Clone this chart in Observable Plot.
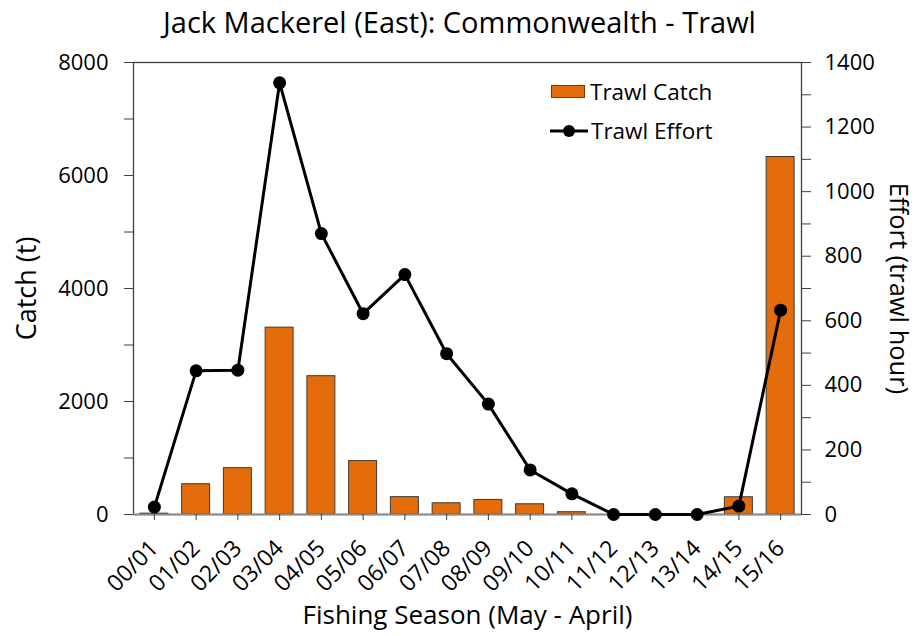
<!DOCTYPE html>
<html><head><meta charset="utf-8">
<script src="https://cdn.jsdelivr.net/npm/d3@7"></script>
<script src="https://cdn.jsdelivr.net/npm/@observablehq/plot@0.6"></script>
<style>
body{margin:0;background:#fff;font-family:"Open Sans",sans-serif;color:#000;}
#wrap{position:relative;width:919px;height:636px;overflow:hidden;}
#title{height:44px;text-align:center;font-size:29px;line-height:44px;}
.leg{position:absolute;display:flex;align-items:center;font-size:22.5px;line-height:26px;}
.leg svg{margin-right:3px;}
</style></head><body>
<div id="wrap">
<div id="title">Jack Mackerel (East): Commonwealth - Trawl</div>
<div id="chart"></div>
<div class="leg" style="left:551px;top:79px;"><svg width="36" height="14"><rect x="0.5" y="0.5" width="33" height="12" fill="#E46C0A" stroke="#7a3a06"/></svg><span>Trawl Catch</span></div>
<div class="leg" style="left:550px;top:118px;"><svg width="38" height="16"><line x1="0" y1="8" x2="38" y2="8" stroke="#000" stroke-width="3"/><circle cx="19" cy="8" r="6" fill="#000"/></svg><span>Trawl Effort</span></div>
</div>
<script>
const seasons = ["00/01","01/02","02/03","03/04","04/05","05/06","06/07","07/08","08/09","09/10","10/11","11/12","12/13","13/14","14/15","15/16"];
const catchT = [15, 536, 820, 3307, 2448, 945, 307, 199, 258, 181, 40, 0, 0, 0, 305, 6327];
const effort = [23, 445, 447, 1337, 870, 622, 743, 498, 342, 138, 64, 0, 0, 0, 26, 633];
const leftTicks = [0,1000,2000,3000,4000,5000,6000,7000,8000];
const rightTicks = [0,100,200,300,400,500,600,700,800,900,1000,1100,1200,1300,1400];

const catchMax = 8000, effortMax = 1400;
const k = catchMax / effortMax;
const data = seasons.map((s,i)=>({season:s, catch:catchT[i], effort:effort[i]}));

const chart = Plot.plot({
  width: 919,
  height: 592,
  marginTop: 18,
  marginBottom: 122,
  marginLeft: 133,
  marginRight: 118,
  style: {fontFamily: "'Open Sans', sans-serif", fontSize: "22px", color: "#000", background: "#fff", overflow: "visible"},
  x: {domain: seasons, paddingInner: 0.33, paddingOuter: 0.165, round: false, label: null},
  y: {domain: [0, catchMax], label: null},
  marks: [
    Plot.barY(data, {x: "season", y: "catch", fill: "#E46C0A", stroke: "#3a3a3a", strokeWidth: 1}),
    Plot.frame({stroke: "#404040", strokeWidth: 1.3}),
    Plot.ruleY([0], {stroke: "#8c8c8c", strokeWidth: 2}),
    Plot.axisY({anchor: "left", ticks: leftTicks, tickFormat: d => d % 2000 === 0 ? String(d) : "", tickSize: 9, tickPadding: 16, fontSize: 22, label: null, stroke: "#404040"}),
    Plot.axisY({anchor: "right", ticks: rightTicks.map(v => v * k), tickFormat: d => { const v = Math.round(d / k); return v % 200 === 0 ? String(v) : ""; }, tickSize: 9, tickPadding: 14, fontSize: 22, label: null, stroke: "#404040"}),
    Plot.axisX({tickRotate: -45, tickSize: 6, tickPadding: 24, fontSize: 23, label: null, stroke: "#404040"}),
    Plot.line(data, {x: "season", y: d => d.effort * k, stroke: "#000", strokeWidth: 3}),
    Plot.dot(data, {x: "season", y: d => d.effort * k, r: 6.5, fill: "#000"}),
    Plot.text(["Catch (t)"], {text: d => d, frameAnchor: "left", textAnchor: "middle", lineAnchor: "middle", dx: -106, rotate: -90, fontSize: 27}),
    Plot.text(["Effort (trawl hour)"], {text: d => d, frameAnchor: "right", textAnchor: "middle", lineAnchor: "middle", dx: 97, rotate: 90, fontSize: 25.5}),
    Plot.text(["Fishing Season (May - April)"], {text: d => d, frameAnchor: "bottom", textAnchor: "middle", lineAnchor: "middle", dy: 101, fontSize: 26})
  ]
});
document.getElementById("chart").appendChild(chart);
</script>
</body></html>
